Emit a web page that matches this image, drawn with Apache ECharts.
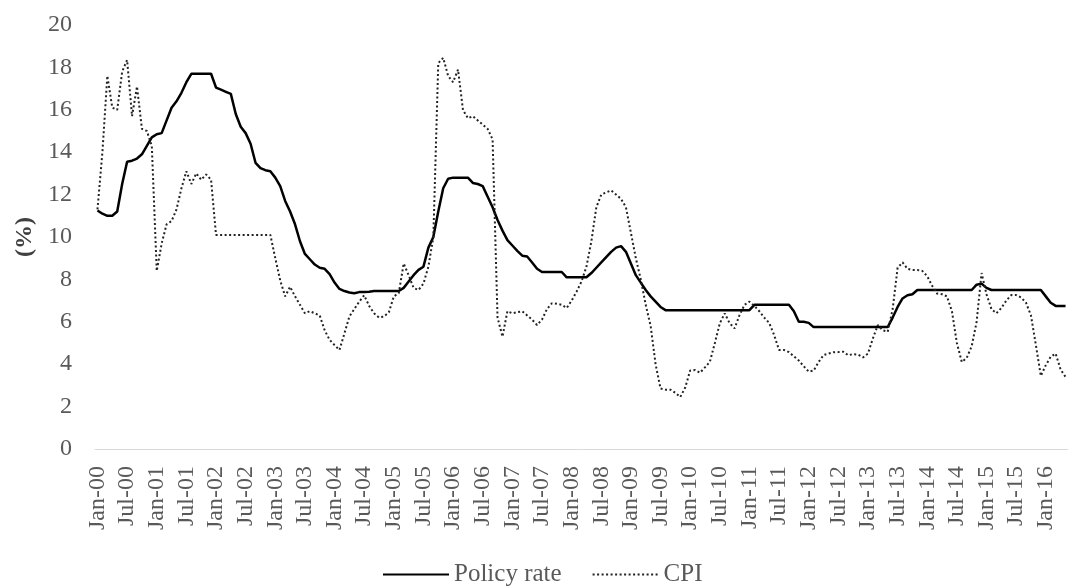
<!DOCTYPE html>
<html>
	<head>
		<meta charset="utf-8" />
		<title>Policy rate and CPI</title>
		<style type="text/css">
			html, body {
				margin: 0;
				padding: 0;
				width: 100%;
				height: 100%;
				background: #fff;
			}
			#chart {
				width: 1068px;
				height: 586px;
			}
		</style>
	</head>
	<body>
		<div id="chart"></div>
		<script src="https://cdn.jsdelivr.net/npm/echarts@6/dist/echarts.min.js"></script>
		<script>
			// monthly, Jan-00 .. May-16
			var monthNames = ['Jan', 'Feb', 'Mar', 'Apr', 'May', 'Jun', 'Jul', 'Aug', 'Sep', 'Oct', 'Nov', 'Dec'];
			var firstYear = 2000;
			var monthCount = 197;

			var policyRate = [
				11.25, 11.1, 11.0, 11.0, 11.2, 12.5, 13.55, 13.6, 13.7, 13.9, 14.3, 14.7,
				14.85, 14.9, 15.5, 16.1, 16.4, 16.8, 17.3, 17.7, 17.7, 17.7, 17.7, 17.7,
				17.05, 16.95, 16.85, 16.75, 15.8, 15.2, 14.9, 14.4, 13.5, 13.25, 13.15, 13.1,
				12.8, 12.4, 11.7, 11.2, 10.6, 9.8, 9.2, 8.95, 8.7, 8.55, 8.5, 8.25,
				7.85, 7.55, 7.45, 7.38, 7.35, 7.4, 7.4, 7.42, 7.45, 7.45, 7.45, 7.45,
				7.45, 7.45, 7.6, 7.9, 8.2, 8.45, 8.6, 9.5, 10.0, 11.2, 12.3, 12.75,
				12.8, 12.8, 12.8, 12.8, 12.55, 12.5, 12.4, 11.9, 11.4, 10.8, 10.3, 9.85,
				9.6, 9.35, 9.12, 9.08, 8.8, 8.5, 8.35, 8.35, 8.35, 8.35, 8.35, 8.1,
				8.1, 8.1, 8.1, 8.1, 8.3, 8.55, 8.8, 9.05, 9.3, 9.5, 9.57, 9.3,
				8.75, 8.2, 7.85, 7.5, 7.2, 6.95, 6.7, 6.55, 6.55, 6.55, 6.55, 6.55,
				6.55, 6.55, 6.55, 6.55, 6.55, 6.55, 6.55, 6.55, 6.55, 6.55, 6.55, 6.55,
				6.55, 6.8, 6.8, 6.8, 6.8, 6.8, 6.8, 6.8, 6.8, 6.5, 6.0, 6.0,
				5.95, 5.75, 5.75, 5.75, 5.75, 5.75, 5.75, 5.75, 5.75, 5.75, 5.75, 5.75,
				5.75, 5.75, 5.75, 5.75, 5.75, 6.2, 6.7, 7.1, 7.25, 7.3, 7.5, 7.5,
				7.5, 7.5, 7.5, 7.5, 7.5, 7.5, 7.5, 7.5, 7.5, 7.5, 7.75, 7.8,
				7.6, 7.5, 7.5, 7.5, 7.5, 7.5, 7.5, 7.5, 7.5, 7.5, 7.5, 7.5,
				7.2, 6.9, 6.75, 6.75, 6.75
			];

			var cpi = [
				11.3, 14.0, 17.6, 16.1, 16.0, 17.8, 18.35, 15.7, 17.1, 15.1, 15.0, 14.3,
				8.4, 9.7, 10.6, 10.75, 11.3, 12.3, 13.1, 12.5, 13.0, 12.7, 12.95, 12.7,
				10.1, 10.1, 10.1, 10.1, 10.1, 10.1, 10.1, 10.1, 10.1, 10.1, 10.1, 10.1,
				9.0, 7.95, 7.2, 7.65, 7.2, 6.8, 6.4, 6.5, 6.4, 6.3, 5.6, 5.15,
				4.9, 4.67, 5.45, 6.25, 6.6, 6.95, 7.25, 6.75, 6.4, 6.2, 6.25, 6.45,
				7.2, 7.35, 8.75, 8.2, 7.6, 7.5, 7.8, 8.6, 10.0, 18.2, 18.45, 17.6,
				17.3, 17.9, 16.0, 15.6, 15.7, 15.5, 15.3, 15.1, 14.6, 6.2, 5.3, 6.5,
				6.4, 6.45, 6.5, 6.3, 6.1, 5.85, 6.1, 6.6, 6.87, 6.85, 6.8, 6.65,
				7.0, 7.42, 7.9, 8.6, 9.8, 11.4, 12.0, 12.1, 12.2, 12.0, 11.8, 11.4,
				10.2, 9.0, 8.0, 6.8, 5.8, 4.0, 2.85, 2.8, 2.8, 2.65, 2.45, 2.9,
				3.7, 3.73, 3.6, 3.85, 4.12, 5.0, 5.93, 6.4, 5.93, 5.69, 6.32, 6.8,
				6.95, 6.75, 6.5, 6.2, 5.95, 5.38, 4.67, 4.67, 4.57, 4.37, 4.17, 3.9,
				3.65, 3.7, 4.1, 4.43, 4.5, 4.56, 4.57, 4.59, 4.42, 4.48, 4.45, 4.32,
				4.5, 5.22, 5.85, 5.6, 5.53, 6.6, 8.55, 8.8, 8.5, 8.44, 8.44, 8.4,
				8.15, 7.7, 7.33, 7.3, 7.2, 6.5, 5.0, 4.1, 4.3, 4.85, 6.0, 8.3,
				7.3, 6.6, 6.4, 6.65, 7.0, 7.26, 7.26, 7.15, 6.9, 6.3, 4.9, 3.45,
				3.95, 4.35, 4.5, 3.75, 3.4
			];

			var months = [];
			for (var i = 0; i < monthCount; i++) {
				var yy = (firstYear + Math.floor(i / 12)) % 100;
				months.push(monthNames[i % 12] + '-' + (yy < 10 ? '0' + yy : '' + yy));
			}

			var font = '"Liberation Serif", "Times New Roman", serif';
			var grey = '#595959';

			var myChart = echarts.init(document.getElementById('chart'));
			var option = {
				animation: false,
				backgroundColor: '#fff',
				grid: {
					left: 95,
					right: 0,
					top: 25,
					bottom: 137
				},
				legend: {
					left: 377,
					top: 557,
					itemWidth: 66,
					itemHeight: 14,
					itemGap: 30,
					// only the line in the key, no marker
					itemStyle: {
						opacity: 0
					},
					textStyle: {
						fontFamily: font,
						fontSize: 25,
						color: grey
					},
					data: ['Policy rate', 'CPI']
				},
				xAxis: {
					type: 'category',
					data: months,
					boundaryGap: true,
					axisLine: {
						lineStyle: { color: '#d9d9d9', width: 1 }
					},
					axisTick: {
						interval: 5,
						length: 9,
						lineStyle: { color: '#d9d9d9' }
					},
					axisLabel: {
						interval: 5,
						rotate: 90,
						margin: 17,
						fontFamily: font,
						fontSize: 24,
						color: grey
					},
					splitLine: { show: false }
				},
				yAxis: {
					type: 'value',
					min: 0,
					max: 20,
					interval: 2,
					name: '(%)',
					nameLocation: 'middle',
					nameRotate: 90,
					nameGap: 58,
					nameTextStyle: {
						fontFamily: font,
						fontSize: 24,
						fontWeight: 'bold',
						color: '#404040'
					},
					axisLine: { show: false },
					axisTick: { show: false },
					splitLine: { show: false },
					axisLabel: {
						margin: 23,
						fontFamily: font,
						fontSize: 24,
						color: grey
					}
				},
				series: [{
					name: 'Policy rate',
					type: 'line',
					data: policyRate,
					symbol: 'none',
					color: '#000',
					lineStyle: { color: '#000', width: 2.5 }
				}, {
					name: 'CPI',
					type: 'line',
					data: cpi,
					symbol: 'none',
					color: '#000',
					lineStyle: { color: '#222', width: 2, type: [2, 2.5] }
				}]
			};
			myChart.setOption(option);
		</script>
	</body>
</html>
